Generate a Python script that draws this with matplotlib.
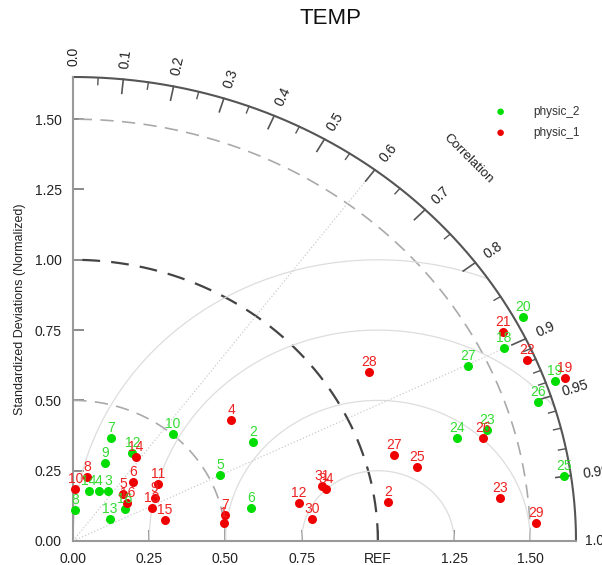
import numpy as np
import matplotlib
matplotlib.use("Agg")
import matplotlib.pyplot as plt

plt.rcParams['font.family'] = ['Liberation Sans', 'DejaVu Sans']

# normalized std and correlation for each case
p2_labels = ['8', '14', '4', '3', '13', '9', '7', '12', '16', '10', '5', '2', '6',
             '27', '24', '23', '20', '18', '19', '26', '25']
p2_std = [0.110, 0.185, 0.197, 0.212, 0.144, 0.297, 0.387, 0.368, 0.205, 0.503, 0.536,
          0.687, 0.595, 1.437, 1.311, 1.414, 1.677, 1.571, 1.680, 1.604, 1.626]
p2_cor = [0.06, 0.28, 0.43, 0.54, 0.84, 0.35, 0.32, 0.53, 0.83, 0.65, 0.90,
          0.86, 0.98, 0.901, 0.96, 0.96, 0.88, 0.899, 0.941, 0.951, 0.990]

p1_labels = ['10', '8', '5', '16', '6', '14', '11', '9', '13', '15', '4', '7', '1',
             '12', '31', '34', '30', '28', '27', '25', '2', '23', '29', '26', '21', '22', '19']
p1_std = [0.185, 0.232, 0.234, 0.223, 0.288, 0.363, 0.343, 0.308, 0.284, 0.311, 0.674,
          0.507, 0.499, 0.753, 0.839, 0.850, 0.788, 1.141, 1.096, 1.158, 1.042, 1.408,
          1.519, 1.393, 1.594, 1.622, 1.714]
p1_cor = [0.04, 0.20, 0.70, 0.80, 0.68, 0.57, 0.81, 0.87, 0.91, 0.97, 0.77,
          0.983, 0.992, 0.984, 0.972, 0.976, 0.995, 0.850, 0.960, 0.974, 0.991, 0.994,
          0.9991, 0.965, 0.885, 0.918, 0.941]

cor_major = [0.0, 0.1, 0.2, 0.3, 0.4, 0.5, 0.6, 0.7, 0.8, 0.9, 0.95, 0.99]
cor_minor = [0.05, 0.15, 0.25, 0.35, 0.45, 0.55, 0.65, 0.75, 0.85,
             0.91, 0.92, 0.93, 0.94, 0.96, 0.97, 0.98]
std_ticks = [0.0, 0.25, 0.5, 0.75, 1.0, 1.25, 1.5]
x_ticklabels = ['0.00', '0.25', '0.50', '0.75', 'REF', '1.25', '1.50']
y_ticklabels = ['0.00', '0.25', '0.50', '0.75', '1.00', '1.25', '1.50']

rmax = 1.65
c_green = '#00dd00'
c_red = '#ee0000'
t_green = '#33dd33'
t_red = '#ee2222'

fig = plt.figure(figsize=(6.02, 5.65), dpi=100)
ax = fig.add_axes([73 / 602, 24 / 565, 503 / 602, 464 / 565])
ax.set_xlim(0, rmax)
ax.set_ylim(0, rmax)
for s in ['top', 'right']:
    ax.spines[s].set_visible(False)
for s in ['left', 'bottom']:
    ax.spines[s].set_color('#999999')
    ax.spines[s].set_linewidth(1.5)

ax.set_xticks(std_ticks)
ax.set_xticklabels(x_ticklabels)
ax.set_yticks(std_ticks)
ax.set_yticklabels(y_ticklabels)
ax.tick_params(direction='in', length=8, width=1.2, color='#777777',
               labelsize=10, labelcolor='#222222', pad=8)
ax.set_ylabel('Standardized Deviations (Normalized)', fontsize=9, color='#222222', labelpad=6)

th = np.linspace(0, np.pi / 2, 300)

# std arcs
for r, col, lw in [(0.5, '#aaaaaa', 1.2), (1.0, '#444444', 1.6), (1.5, '#aaaaaa', 1.2)]:
    ax.plot(r * np.cos(th), r * np.sin(th), color=col, lw=lw, ls=(0, (8, 5)))

# RMS arcs centered on REF
tt = np.linspace(0, np.pi, 600)
for r in [0.25, 0.5, 0.75, 1.0]:
    xx = 1 + r * np.cos(tt)
    yy = r * np.sin(tt)
    keep = (xx >= 0) & (xx ** 2 + yy ** 2 <= rmax ** 2)
    ax.plot(np.where(keep, xx, np.nan), yy, color='#dddddd', lw=0.9)

# correlation rays
for c in [0.6, 0.9]:
    a = np.arccos(c)
    ax.plot([0, rmax * np.cos(a)], [0, rmax * np.sin(a)], color='#cccccc', lw=0.9, ls=':')

# outer arc
ax.plot(rmax * np.cos(th), rmax * np.sin(th), color='#555555', lw=1.5, clip_on=False)

# display-space stretch for text rotation
sx, sy = 503 / rmax, 464 / rmax
for c in cor_major:
    a = np.arccos(c)
    ax.plot([rmax * np.cos(a), (rmax - 0.05) * np.cos(a)],
            [rmax * np.sin(a), (rmax - 0.05) * np.sin(a)], color='#555555', lw=1.2)
    rot = np.degrees(np.arctan2(np.sin(a) * sy, np.cos(a) * sx))
    lab = '%.1f' % c if c not in (0.95, 0.99) else '%.2f' % c
    ax.text(1.69 * np.cos(a), 1.69 * np.sin(a), lab, rotation=rot, rotation_mode='anchor',
            ha='left', va='center', fontsize=10, color='#222222', clip_on=False)
for c in cor_minor:
    a = np.arccos(c)
    ax.plot([rmax * np.cos(a), (rmax - 0.025) * np.cos(a)],
            [rmax * np.sin(a), (rmax - 0.025) * np.sin(a)], color='#555555', lw=1.0)
ax.text(1.68, 0.0, '1.0', ha='left', va='center', fontsize=10, color='#222222', clip_on=False)

a = np.arccos(0.69)
ax.text(1.88 * np.cos(a), 1.88 * np.sin(a), 'Correlation', rotation=-45, rotation_mode='anchor',
        ha='center', va='center', fontsize=9.5, color='#222222', clip_on=False)

# points
for labs, std, cor, mc, tc in [(p2_labels, p2_std, p2_cor, c_green, t_green),
                                (p1_labels, p1_std, p1_cor, c_red, t_red)]:
    std = np.array(std)
    cor = np.array(cor)
    x = std * cor
    y = std * np.sqrt(1 - cor ** 2)
    ax.plot(x, y, 'o', color=mc, ms=6.5, mec='none', clip_on=False, zorder=5)
    for xi, yi, lb in zip(x, y, labs):
        ax.annotate(lb, (xi, yi), xytext=(0, 10), textcoords='offset pixels',
                    ha='center', va='center', fontsize=10, color=tc,
                    annotation_clip=False, zorder=6)

# legend
fig.text(500 / 602, 1 - 112 / 565, '\u25CF', color=c_green, fontsize=11, ha='center', va='center')
fig.text(500 / 602, 1 - 133 / 565, '\u25CF', color=c_red, fontsize=11, ha='center', va='center')
fig.text(533 / 602, 1 - 112 / 565, 'physic_2', fontsize=8.5, color='#333333', ha='left', va='center')
fig.text(533 / 602, 1 - 133 / 565, 'physic_1', fontsize=8.5, color='#333333', ha='left', va='center')

fig.text(330 / 602, 1 - 18 / 565, 'TEMP', fontsize=16, color='#111111', ha='center', va='center')

fig.savefig('out.png', dpi=100)
